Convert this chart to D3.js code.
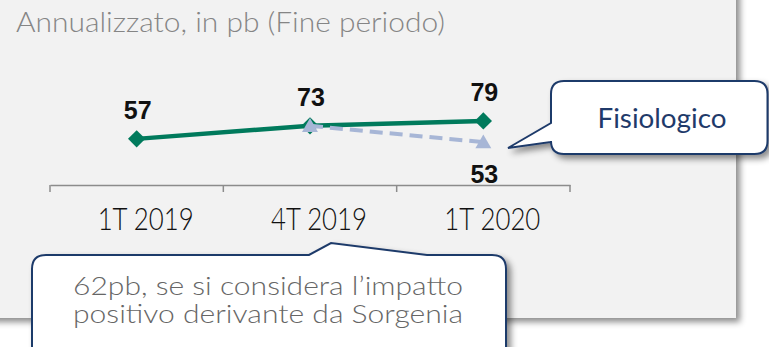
<!DOCTYPE html>
<html>
<head>
<meta charset="utf-8">
<script src="https://cdn.jsdelivr.net/npm/d3@7"></script>
<style>
  html, body { margin: 0; padding: 0; background: #ffffff; }
  svg { display: block; }
</style>
</head>
<body>
<svg id="chart" width="769" height="347"></svg>
<script>
// Categories and series (basis points, annualised, end of period)
const categories = ["1T 2019", "4T 2019", "1T 2020"];
const reported = [57, 73, 79];
const physiological = [null, 73, 53];
const title = "Annualizzato, in pb (Fine periodo)";
const calloutRight = "Fisiologico";
const calloutBottom = ["62pb, se si considera l\u2019impatto", "positivo derivante da Sorgenia"];

const svg = d3.select("#chart");
const FONT = "Lato, 'Open Sans', sans-serif";
const NUMFONT = "'Liberation Sans', Arial, sans-serif";

// soft drop shadow used by the panel and the callouts
const defs = svg.append("defs");
const sh = defs.append("filter").attr("id", "shadow")
  .attr("x", "-10%").attr("y", "-10%").attr("width", "130%").attr("height", "140%");
sh.append("feDropShadow").attr("dx", 4).attr("dy", 4).attr("stdDeviation", 3)
  .attr("flood-color", "#000").attr("flood-opacity", 0.45);

// grey panel
svg.append("rect").attr("x", -20).attr("y", -20).attr("width", 756).attr("height", 338)
  .attr("fill", "#f2f2f2").attr("filter", "url(#shadow)");

// title
svg.append("text").attr("x", 16).attr("y", 32)
  .attr("font-family", FONT).attr("font-weight", 300).attr("font-size", 28).attr("fill", "#858585")
  .attr("textLength", 429).attr("lengthAdjust", "spacingAndGlyphs")
  .text(title);

// scales
const x = d3.scaleBand().domain(categories).range([50, 570]);
const cx = c => x(c) + x.bandwidth() / 2;
const y = d3.scaleLinear().domain([0, 100]).range([185.5, 103.7]);

// category axis: baseline with ticks on the band boundaries
const axisY = 185;
const axisG = svg.append("g").attr("transform", `translate(0,${axisY})`);
axisG.call(d3.axisBottom(x).tickSize(0).tickFormat(""))
  .call(g => g.select(".domain").attr("stroke", "#8c8c8c").attr("stroke-width", 1.5));
const bounds = categories.map(c => x(c)).concat([x(categories[categories.length - 1]) + x.bandwidth()]);
axisG.selectAll("line.bound").data(bounds).join("line").attr("class", "bound")
  .attr("x1", d => d).attr("x2", d => d).attr("y1", 0).attr("y2", 7)
  .attr("stroke", "#8c8c8c").attr("stroke-width", 1.5);
svg.append("g").selectAll("text").data(categories).join("text")
  .attr("x", d => cx(d) + 9).attr("y", 230)
  .attr("text-anchor", "middle")
  .attr("font-family", FONT).attr("font-weight", 300).attr("font-size", 31).attr("fill", "#111")
  .attr("textLength", 96).attr("lengthAdjust", "spacingAndGlyphs")
  .text(d => d);

// reported series (solid green, diamond markers)
const GREEN = "#007a5c";
const repData = categories.map((c, i) => ({ c, v: reported[i] }));
svg.append("path").datum(repData)
  .attr("fill", "none").attr("stroke", GREEN).attr("stroke-width", 4.5)
  .attr("d", d3.line().x(d => cx(d.c)).y(d => y(d.v)));
svg.append("g").selectAll("path").data(repData).join("path")
  .attr("transform", d => `translate(${cx(d.c)},${y(d.v)}) rotate(45)`)
  .attr("d", d3.symbol(d3.symbolSquare, 150)())
  .attr("fill", GREEN);

// physiological series (dashed light blue, triangle markers)
const BLUE = "#a7b6d6";
const phyData = categories.map((c, i) => ({ c, v: physiological[i] })).filter(d => d.v != null);
svg.append("path").datum(phyData)
  .attr("fill", "none").attr("stroke", BLUE).attr("stroke-width", 4)
  .attr("stroke-dasharray", "13 7")
  .attr("d", d3.line().x(d => cx(d.c)).y(d => y(d.v)));
svg.append("g").selectAll("path").data(phyData).join("path")
  .attr("transform", d => `translate(${cx(d.c)},${y(d.v) + 1.5})`)
  .attr("d", d3.symbol(d3.symbolTriangle, 110)())
  .attr("fill", BLUE);

// value labels
svg.append("g").selectAll("text").data(repData).join("text")
  .attr("x", d => cx(d.c) + 1).attr("y", d => y(d.v) - 20)
  .attr("text-anchor", "middle")
  .attr("font-family", NUMFONT).attr("font-weight", "bold").attr("font-size", 25)
  .attr("fill", "#111").text(d => d.v);
svg.append("g").selectAll("text").data(phyData.slice(1)).join("text")
  .attr("x", d => cx(d.c) + 1).attr("y", d => y(d.v) + 41)
  .attr("text-anchor", "middle")
  .attr("font-family", NUMFONT).attr("font-weight", "bold").attr("font-size", 25)
  .attr("fill", "#111").text(d => d.v);

// callout shapes
const NAVY = "#1f3a6a";
function calloutLeft(x0, y0, x1, y1, r, pA, tip, pB) {
  return `M${x0 + r},${y0} H${x1 - r} Q${x1},${y0} ${x1},${y0 + r} V${y1 - r} Q${x1},${y1} ${x1 - r},${y1}` +
    ` H${x0 + r} Q${x0},${y1} ${x0},${y1 - r} V${pB} L${tip[0]},${tip[1]} L${x0},${pA} V${y0 + r} Q${x0},${y0} ${x0 + r},${y0} Z`;
}
function calloutTop(x0, y0, x1, y1, r, pA, tip, pB) {
  return `M${x0 + r},${y0} H${pA} L${tip[0]},${tip[1]} L${pB},${y0} H${x1 - r} Q${x1},${y0} ${x1},${y0 + r}` +
    ` V${y1 - r} Q${x1},${y1} ${x1 - r},${y1} H${x0 + r} Q${x0},${y1} ${x0},${y1 - r} V${y0 + r} Q${x0},${y0} ${x0 + r},${y0} Z`;
}

svg.append("path")
  .attr("d", calloutLeft(551, 81, 767.5, 154, 13, 123, [508, 148], 142))
  .attr("fill", "#ffffff").attr("stroke", NAVY).attr("stroke-width", 2)
  .attr("filter", "url(#shadow)");
svg.append("text").attr("x", 662).attr("y", 128).attr("text-anchor", "middle")
  .attr("font-family", FONT).attr("font-weight", 400).attr("font-size", 26).attr("fill", "#1f3a6a")
  .attr("textLength", 129).attr("lengthAdjust", "spacingAndGlyphs")
  .text(calloutRight);

svg.append("path")
  .attr("d", calloutTop(32, 255, 506, 372, 14, 309, [331, 243], 427))
  .attr("fill", "#ffffff").attr("stroke", NAVY).attr("stroke-width", 2)
  .attr("filter", "url(#shadow)");
svg.append("g").selectAll("text").data(calloutBottom).join("text")
  .attr("x", 268).attr("y", (d, i) => 295 + i * 28).attr("text-anchor", "middle")
  .attr("font-family", FONT).attr("font-weight", 300).attr("font-size", 25).attr("fill", "#666")
  .attr("textLength", 390).attr("lengthAdjust", "spacingAndGlyphs")
  .text(d => d);
</script>
</body>
</html>
